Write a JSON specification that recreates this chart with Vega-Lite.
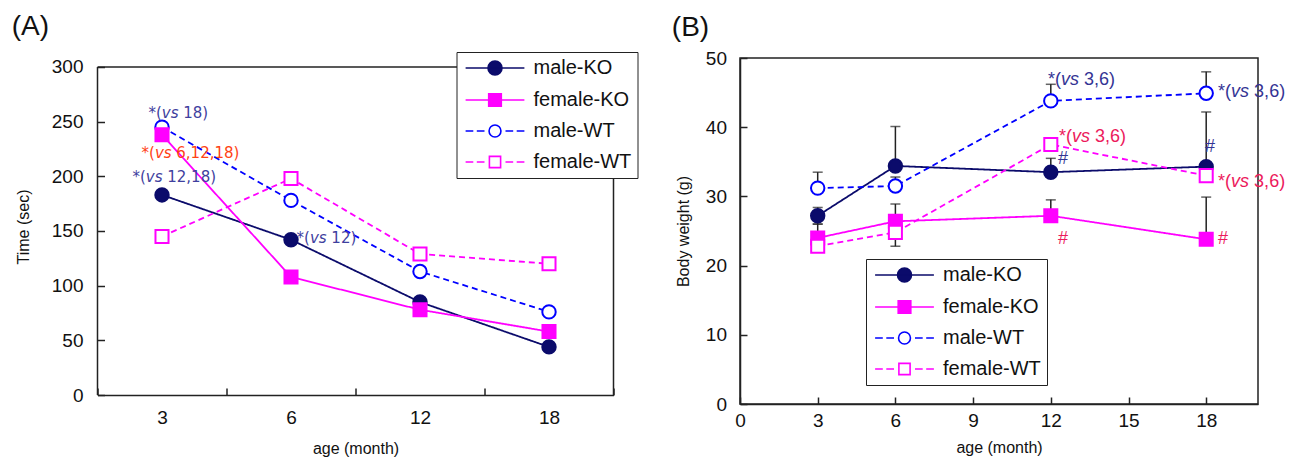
{
  "$schema": "https://vega.github.io/schema/vega-lite/v6.json",
  "background": "white",
  "padding": {"left": 11.5, "top": 12, "right": 5, "bottom": 2},
  "spacing": 126.5,
  "bounds": "flush",
  "config": {
    "font": "Liberation Sans",
    "view": {"stroke": "#222", "strokeWidth": 1.5},
    "axis": {"grid": false, "domainColor": "#222", "domainWidth": 1.5, "tickColor": "#222", "tickWidth": 1.5, "tickSize": -7, "labelFont": "Liberation Sans", "labelFontSize": 19, "labelColor": "#111", "titleFont": "Liberation Sans", "titleFontSize": 16, "titleFontWeight": "normal", "titleColor": "#111", "labelFlush": false},
    "axisX": {"labelPadding": 16, "titlePadding": 12, "labelAngle": 0},
    "axisY": {"labelPadding": 24, "titlePadding": 14},
    "title": {"font": "Liberation Sans", "fontSize": 28, "fontWeight": "normal", "anchor": "start", "frame": "bounds", "baseline": "alphabetic", "color": "#111"},
    "legend": {"orient": "none", "title": null, "strokeColor": "#222", "fillColor": "white", "padding": 6, "symbolSize": 196, "symbolOffset": 22.5, "labelOffset": 28.5, "labelFont": "Liberation Sans", "labelFontSize": 20, "labelColor": "#111", "rowPadding": 11, "symbolStrokeWidth": 1.6, "symbolOpacity": 1}
  },
  "datasets": {
    "a": [
      {"age": 3, "series": "male-KO", "time": 183},
      {"age": 6, "series": "male-KO", "time": 142},
      {"age": 12, "series": "male-KO", "time": 85},
      {"age": 18, "series": "male-KO", "time": 44},
      {"age": 3, "series": "female-KO", "time": 238},
      {"age": 6, "series": "female-KO", "time": 108},
      {"age": 12, "series": "female-KO", "time": 78},
      {"age": 18, "series": "female-KO", "time": 58},
      {"age": 3, "series": "male-WT", "time": 245},
      {"age": 6, "series": "male-WT", "time": 178},
      {"age": 12, "series": "male-WT", "time": 113},
      {"age": 18, "series": "male-WT", "time": 76},
      {"age": 3, "series": "female-WT", "time": 145},
      {"age": 6, "series": "female-WT", "time": 198},
      {"age": 12, "series": "female-WT", "time": 129},
      {"age": 18, "series": "female-WT", "time": 120}
    ],
    "annA": [
      {"slot": -0.105, "time": 258, "rest": "18)", "grp": "blue"},
      {"slot": -0.159, "time": 221, "rest": "6,12,18)", "grp": "red"},
      {"slot": -0.229, "time": 199, "rest": "12,18)", "grp": "blue"},
      {"slot": 1.043, "time": 143.6, "rest": "12)", "grp": "blue"}
    ],
    "b": [
      {"age": 3, "series": "male-KO", "weight": 27.2},
      {"age": 6, "series": "male-KO", "weight": 34.4},
      {"age": 12, "series": "male-KO", "weight": 33.5},
      {"age": 18, "series": "male-KO", "weight": 34.3},
      {"age": 3, "series": "female-KO", "weight": 24.0},
      {"age": 6, "series": "female-KO", "weight": 26.4},
      {"age": 12, "series": "female-KO", "weight": 27.2},
      {"age": 18, "series": "female-KO", "weight": 23.8},
      {"age": 3, "series": "male-WT", "weight": 31.2},
      {"age": 6, "series": "male-WT", "weight": 31.5},
      {"age": 12, "series": "male-WT", "weight": 43.8},
      {"age": 18, "series": "male-WT", "weight": 44.9},
      {"age": 3, "series": "female-WT", "weight": 22.8},
      {"age": 6, "series": "female-WT", "weight": 24.8},
      {"age": 12, "series": "female-WT", "weight": 37.5},
      {"age": 18, "series": "female-WT", "weight": 33.0}
    ],
    "errb": [
      {"age": 3, "series": "male-KO", "lo": 26.0, "hi": 28.4},
      {"age": 3, "series": "male-WT", "lo": 31.2, "hi": 33.5},
      {"age": 3, "series": "female-KO", "lo": 24.0, "hi": 26.0},
      {"age": 6, "series": "male-KO", "lo": 34.4, "hi": 40.1},
      {"age": 6, "series": "male-WT", "lo": 31.5, "hi": 32.8},
      {"age": 6, "series": "female-KO", "lo": 26.4, "hi": 28.9},
      {"age": 6, "series": "female-WT", "lo": 22.8, "hi": 24.8},
      {"age": 12, "series": "male-KO", "lo": 33.5, "hi": 35.5},
      {"age": 12, "series": "male-WT", "lo": 43.8, "hi": 46.2},
      {"age": 12, "series": "female-KO", "lo": 27.2, "hi": 29.5},
      {"age": 18, "series": "male-KO", "lo": 34.3, "hi": 42.2},
      {"age": 18, "series": "male-WT", "lo": 44.9, "hi": 48.0},
      {"age": 18, "series": "female-KO", "lo": 23.8, "hi": 29.9}
    ],
    "annB": [
      {"age": 11.89, "weight": 46.8, "rest": "3,6)", "grp": "blue"},
      {"age": 18.46, "weight": 45.1, "rest": "3,6)", "grp": "blue"},
      {"age": 12.32, "weight": 38.6, "rest": "3,6)", "grp": "red"},
      {"age": 18.46, "weight": 32.1, "rest": "3,6)", "grp": "red"}
    ],
    "hashB": [
      {"age": 12.28, "weight": 35.4, "grp": "blue"},
      {"age": 17.95, "weight": 37.1, "grp": "blue"},
      {"age": 12.28, "weight": 23.8, "grp": "red"},
      {"age": 18.46, "weight": 23.8, "grp": "red"}
    ]
  },
  "hconcat": [
    {
      "title": {"text": "(A)", "offset": 11, "dx": -4},
      "width": 516,
      "height": 337,
      "view": {"stroke": null},
      "layer": [
        {
          "data": {"name": "a"},
          "encoding": {
            "x": {"field": "age", "type": "ordinal", "scale": {"type": "band", "paddingInner": 0, "paddingOuter": 0}, "axis": {"title": "age (month)", "tickBand": "extent", "values": [3, 6, 12, 18], "labelPadding": 20, "titlePadding": 13}},
            "y": {"field": "time", "type": "quantitative", "title": "Time (sec)", "scale": {"domain": [0, 308.23], "nice": false}, "axis": {"values": [0, 50, 100, 150, 200, 250, 300], "domain": false, "labelPadding": 21.5, "titlePadding": 19.5}}
          },
          "layer": [
            {
              "mark": {"type": "line", "strokeWidth": 1.8},
              "encoding": {
                "color": {"field": "series", "type": "nominal", "scale": {"domain": ["female-KO", "female-WT", "male-KO", "male-WT"], "range": ["#ff00ff", "#ff00ff", "#0b0b6b", "#0000ff"]}, "legend": null},
                "strokeDash": {"field": "series", "type": "nominal", "scale": {"domain": ["male-WT", "male-KO", "female-WT", "female-KO"], "range": [[6, 4], [1, 0], [6, 4], [1, 0]]}, "legend": null}
              }
            },
            {
              "transform": [{"filter": {"field": "series", "oneOf": ["male-KO", "male-WT"]}}],
              "mark": {"type": "point", "shape": "circle", "size": 180, "strokeWidth": 2, "opacity": 1, "filled": true},
              "encoding": {
                "fill": {"field": "series", "type": "nominal", "scale": {"domain": ["male-KO", "female-KO", "male-WT", "female-WT"], "range": ["#0b0b6b", "#ff00ff", "#ffffff", "#ffffff"]}},
                "stroke": {"field": "series", "type": "nominal", "scale": {"domain": ["male-KO", "female-KO", "male-WT", "female-WT"], "range": ["#0b0b6b", "#ff00ff", "#0000ff", "#ff00ff"]}}
              }
            },
            {
              "transform": [{"filter": {"field": "series", "oneOf": ["female-KO", "female-WT"]}}],
              "mark": {"type": "point", "shape": "square", "size": 170, "strokeWidth": 2, "opacity": 1, "filled": true},
              "encoding": {
                "fill": {"field": "series", "type": "nominal", "scale": {"domain": ["male-KO", "female-KO", "male-WT", "female-WT"], "range": ["#0b0b6b", "#ff00ff", "#ffffff", "#ffffff"]}},
                "stroke": {"field": "series", "type": "nominal", "scale": {"domain": ["male-KO", "female-KO", "male-WT", "female-WT"], "range": ["#0b0b6b", "#ff00ff", "#0000ff", "#ff00ff"]}}
              }
            },
            {
              "mark": {"type": "point", "opacity": 0, "size": 196, "filled": true},
              "encoding": {
                "shape": {"field": "series", "type": "nominal", "scale": {"domain": ["male-KO", "female-KO", "male-WT", "female-WT"], "range": ["M-4.2,0H4.2M-1,0A1,1 0 1,1 1,0A1,1 0 1,1 -1,0Z", "M-4.2,0H4.2M-0.9,-0.9H0.9V0.9H-0.9Z", "M-4.2,0H-3.1M-2.6,0H-1.5M1.5,0H2.6M3.1,0H4.2M-0.85,0A0.85,0.85 0 1,1 0.85,0A0.85,0.85 0 1,1 -0.85,0Z", "M-4.2,0H-3.1M-2.6,0H-1.5M1.5,0H2.6M3.1,0H4.2M-0.8,-0.8H0.8V0.8H-0.8Z"]}, "legend": {"legendX": 359, "legendY": -6}},
                "fill": {"field": "series", "type": "nominal", "scale": {"domain": ["male-KO", "female-KO", "male-WT", "female-WT"], "range": ["#0b0b6b", "#ff00ff", "#ffffff", "#ffffff"]}, "legend": {"legendX": 359, "legendY": -6}},
                "stroke": {"field": "series", "type": "nominal", "scale": {"domain": ["male-KO", "female-KO", "male-WT", "female-WT"], "range": ["#0b0b6b", "#ff00ff", "#0000ff", "#ff00ff"]}, "legend": {"legendX": 359, "legendY": -6}}
              }
            }
          ]
        },
        {
          "data": {"name": "annA"},
          "encoding": {
            "x": {"field": "slot", "type": "quantitative", "scale": {"domain": [-0.5, 3.5], "nice": false, "zero": false}, "axis": null},
            "y": {"field": "time", "type": "quantitative", "title": "Time (sec)"},
            "color": {"field": "grp", "type": "nominal", "scale": {"domain": ["blue", "red"], "range": ["#3f3f9e", "#ff4214"]}, "legend": null}
          },
          "layer": [
            {"mark": {"type": "text", "text": "*(", "align": "left", "baseline": "middle", "font": "DejaVu Sans", "fontSize": 15}},
            {"mark": {"type": "text", "text": "vs", "align": "left", "baseline": "middle", "font": "DejaVu Sans", "fontStyle": "italic", "fontSize": 15, "dx": 13.4}},
            {"mark": {"type": "text", "align": "left", "baseline": "middle", "font": "DejaVu Sans", "fontSize": 15, "dx": 34.8}, "encoding": {"text": {"field": "rest"}}}
          ]
        },
        {
          "data": {"values": [{}]},
          "layer": [
            {"mark": {"type": "rule", "color": "#222", "strokeWidth": 1.5}, "encoding": {"x": {"datum": -0.5, "type": "quantitative", "scale": {"domain": [-0.5, 3.5], "nice": false, "zero": false}, "axis": null}, "x2": {"datum": 3.5}, "y": {"datum": 300, "type": "quantitative", "title": "Time (sec)"}}},
            {"mark": {"type": "rule", "color": "#222", "strokeWidth": 1.5}, "encoding": {"x": {"datum": -0.5, "type": "quantitative", "scale": {"domain": [-0.5, 3.5], "nice": false, "zero": false}, "axis": null}, "y": {"datum": 0, "type": "quantitative", "title": "Time (sec)"}, "y2": {"datum": 300}}},
            {"mark": {"type": "rule", "color": "#222", "strokeWidth": 1.5}, "encoding": {"x": {"datum": 3.5, "type": "quantitative", "scale": {"domain": [-0.5, 3.5], "nice": false, "zero": false}, "axis": null}, "y": {"datum": 0, "type": "quantitative", "title": "Time (sec)"}, "y2": {"datum": 300}}}
          ]
        }
      ],
      "resolve": {"scale": {"x": "independent", "color": "independent"}}
    },
    {
      "title": {"text": "(B)", "offset": 7.5, "dx": -4},
      "width": 518,
      "height": 346,
      "encoding": {
        "x": {"field": "age", "type": "quantitative", "title": "age (month)", "scale": {"domain": [0, 20], "nice": false}, "axis": {"values": [0, 3, 6, 9, 12, 15, 18], "labelPadding": 14, "titlePadding": 9}},
        "y": {"field": "weight", "type": "quantitative", "title": "Body weight (g)", "scale": {"domain": [0, 50], "nice": false}, "axis": {"values": [0, 10, 20, 30, 40, 50], "labelPadding": 20.5, "titlePadding": 13.5}}
      },
      "layer": [
        {
          "data": {"name": "errb"},
          "mark": {"type": "errorbar", "color": "#222", "thickness": 1.5, "ticks": {"size": 10, "color": "#222"}},
          "encoding": {
            "y": {"field": "lo", "type": "quantitative", "title": "Body weight (g)"},
            "y2": {"field": "hi"}
          }
        },
        {
          "data": {"name": "b"},
          "layer": [
            {
              "mark": {"type": "line", "strokeWidth": 1.8},
              "encoding": {
                "color": {"field": "series", "type": "nominal", "scale": {"domain": ["female-KO", "female-WT", "male-KO", "male-WT"], "range": ["#ff00ff", "#ff00ff", "#0b0b6b", "#0000ff"]}, "legend": null},
                "strokeDash": {"field": "series", "type": "nominal", "scale": {"domain": ["male-WT", "male-KO", "female-WT", "female-KO"], "range": [[6, 4], [1, 0], [6, 4], [1, 0]]}, "legend": null}
              }
            },
            {
              "transform": [{"filter": {"field": "series", "oneOf": ["male-KO", "male-WT"]}}],
              "mark": {"type": "point", "shape": "circle", "size": 180, "strokeWidth": 2, "opacity": 1, "filled": true},
              "encoding": {
                "fill": {"field": "series", "type": "nominal", "scale": {"domain": ["male-KO", "female-KO", "male-WT", "female-WT"], "range": ["#0b0b6b", "#ff00ff", "#ffffff", "#ffffff"]}},
                "stroke": {"field": "series", "type": "nominal", "scale": {"domain": ["male-KO", "female-KO", "male-WT", "female-WT"], "range": ["#0b0b6b", "#ff00ff", "#0000ff", "#ff00ff"]}}
              }
            },
            {
              "transform": [{"filter": {"field": "series", "oneOf": ["female-KO", "female-WT"]}}],
              "mark": {"type": "point", "shape": "square", "size": 170, "strokeWidth": 2, "opacity": 1, "filled": true},
              "encoding": {
                "fill": {"field": "series", "type": "nominal", "scale": {"domain": ["male-KO", "female-KO", "male-WT", "female-WT"], "range": ["#0b0b6b", "#ff00ff", "#ffffff", "#ffffff"]}},
                "stroke": {"field": "series", "type": "nominal", "scale": {"domain": ["male-KO", "female-KO", "male-WT", "female-WT"], "range": ["#0b0b6b", "#ff00ff", "#0000ff", "#ff00ff"]}}
              }
            },
            {
              "mark": {"type": "point", "opacity": 0, "size": 196, "filled": true},
              "encoding": {
                "shape": {"field": "series", "type": "nominal", "scale": {"domain": ["male-KO", "female-KO", "male-WT", "female-WT"], "range": ["M-4.2,0H4.2M-1,0A1,1 0 1,1 1,0A1,1 0 1,1 -1,0Z", "M-4.2,0H4.2M-0.9,-0.9H0.9V0.9H-0.9Z", "M-4.2,0H-3.1M-2.6,0H-1.5M1.5,0H2.6M3.1,0H4.2M-0.85,0A0.85,0.85 0 1,1 0.85,0A0.85,0.85 0 1,1 -0.85,0Z", "M-4.2,0H-3.1M-2.6,0H-1.5M1.5,0H2.6M3.1,0H4.2M-0.8,-0.8H0.8V0.8H-0.8Z"]}, "legend": {"legendX": 126, "legendY": 201}},
                "fill": {"field": "series", "type": "nominal", "scale": {"domain": ["male-KO", "female-KO", "male-WT", "female-WT"], "range": ["#0b0b6b", "#ff00ff", "#ffffff", "#ffffff"]}, "legend": {"legendX": 126, "legendY": 201}},
                "stroke": {"field": "series", "type": "nominal", "scale": {"domain": ["male-KO", "female-KO", "male-WT", "female-WT"], "range": ["#0b0b6b", "#ff00ff", "#0000ff", "#ff00ff"]}, "legend": {"legendX": 126, "legendY": 201}}
              }
            }
          ]
        },
        {
          "layer": [
            {
              "data": {"name": "annB"},
              "encoding": {"color": {"field": "grp", "type": "nominal", "scale": {"domain": ["blue", "red"], "range": ["#343494", "#ec1a5c"]}, "legend": null}},
              "layer": [
                {"mark": {"type": "text", "text": "*(", "align": "left", "baseline": "middle", "fontSize": 18}},
                {"mark": {"type": "text", "text": "vs", "align": "left", "baseline": "middle", "fontStyle": "italic", "fontSize": 18, "dx": 13}},
                {"mark": {"type": "text", "align": "left", "baseline": "middle", "fontSize": 18, "dx": 36}, "encoding": {"text": {"field": "rest"}}}
              ]
            },
            {
              "data": {"name": "hashB"},
              "mark": {"type": "text", "text": "#", "align": "left", "baseline": "middle", "fontSize": 18},
              "encoding": {"color": {"field": "grp", "type": "nominal", "scale": {"domain": ["blue", "red"], "range": ["#343494", "#ec1a5c"]}, "legend": null}}
            }
          ]
        }
      ],
      "resolve": {"scale": {"color": "independent"}}
    }
  ],
  "resolve": {"scale": {"color": "independent", "fill": "independent", "stroke": "independent", "shape": "independent", "strokeDash": "independent"}, "legend": {"color": "independent", "fill": "independent", "stroke": "independent", "shape": "independent"}}
}
